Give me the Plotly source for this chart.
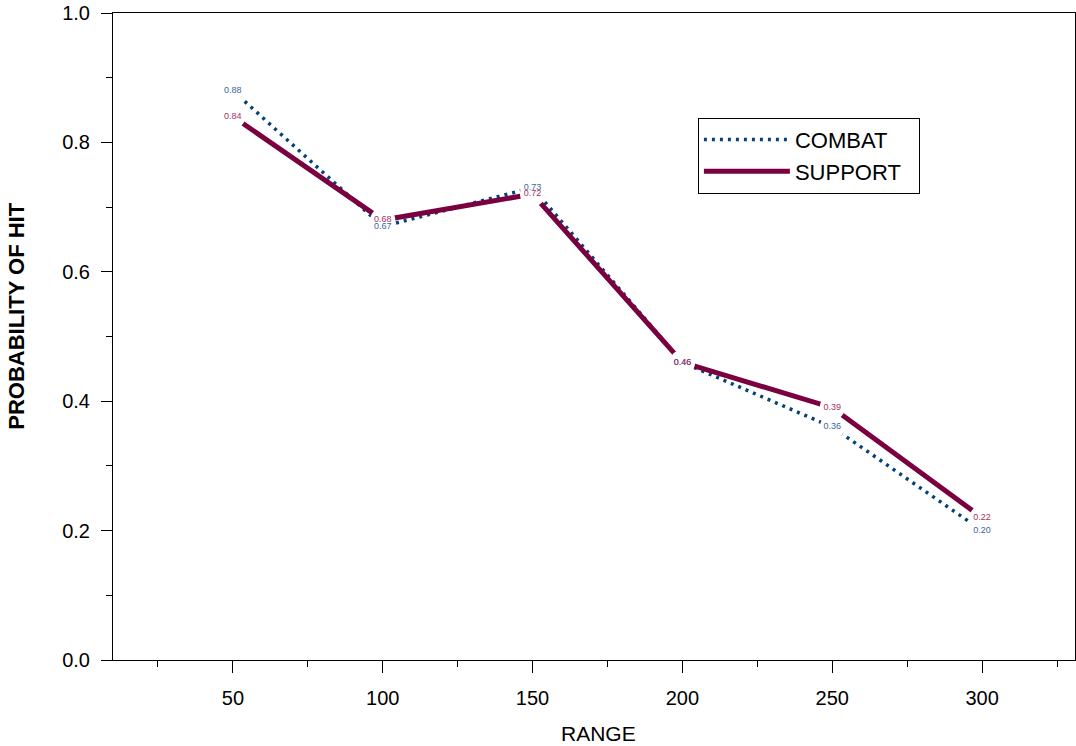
import plotly.graph_objects as go

ranges = [50, 100, 150, 200, 250, 300]
combat = [0.88, 0.67, 0.73, 0.46, 0.36, 0.20]
support = [0.84, 0.68, 0.72, 0.46, 0.39, 0.22]
combat_labels = ["0.88", "0.67", "0.73", "0.46", "0.36", "0.20"]
support_labels = ["0.84", "0.68", "0.72", "0.46", "0.39", "0.22"]
y_ticks = [0, 0.2, 0.4, 0.6, 0.8, 1.0]
y_ticktext = ["0.0", "0.2", "0.4", "0.6", "0.8", "1.0"]

FONT = "Arial, Liberation Sans, sans-serif"
C_LINE = "#00427A"
C_TEXT = "#3A66A0"
S_LINE = "#7A0040"
S_TEXT = "#A8305F"
PAD = "\u00a0\u00a0"

fig = go.Figure()
fig.add_trace(go.Scatter(x=ranges, y=combat, mode="lines", name="COMBAT" + PAD,
                         line=dict(color=C_LINE, width=3.5, dash="3px,5px")))
fig.add_trace(go.Scatter(x=ranges, y=support, mode="lines", name="SUPPORT" + PAD,
                         line=dict(color=S_LINE, width=5)))
# white knock-outs around labelled points
for ys in (combat, support):
    fig.add_trace(go.Scatter(x=ranges, y=ys, mode="markers", showlegend=False,
                             hoverinfo="skip",
                             marker=dict(color="white", size=25, symbol="circle",
                                         line=dict(width=0))))
fig.add_trace(go.Scatter(x=ranges, y=combat, mode="text", text=combat_labels,
                         showlegend=False, textposition="middle center",
                         textfont=dict(family=FONT, size=9, color=C_TEXT)))
fig.add_trace(go.Scatter(x=ranges, y=support, mode="text", text=support_labels,
                         showlegend=False, textposition="middle center",
                         textfont=dict(family=FONT, size=9, color=S_TEXT)))

fig.update_layout(
    width=1076, height=746,
    margin=dict(l=113, r=1, t=13, b=86),
    paper_bgcolor="white", plot_bgcolor="white",
    font=dict(family=FONT, size=20, color="black"),
    showlegend=True,
    legend=dict(x=0.608, y=0.838, xanchor="left", yanchor="top",
                bgcolor="white", bordercolor="black", borderwidth=1,
                itemwidth=86, tracegroupgap=0,
                font=dict(family=FONT, size=22, color="black")),
    annotations=[
        dict(text="<b>PROBABILITY OF HIT</b>", xref="paper", yref="paper",
             x=-0.0998, y=0.532, xanchor="center", yanchor="middle",
             textangle=-90, showarrow=False,
             font=dict(family=FONT, size=22, color="black")),
        dict(text="RANGE", xref="paper", yref="paper",
             x=0.505, y=-0.113, xanchor="center", yanchor="middle",
             showarrow=False, font=dict(family=FONT, size=21, color="black")),
    ],
)
fig.update_xaxes(
    range=[10, 331], tickvals=ranges, ticktext=[str(r) for r in ranges],
    ticks="outside", ticklen=12, tickwidth=1, tickcolor="black",
    ticklabelstandoff=8, automargin=False,
    showline=True, linecolor="black", linewidth=1, mirror=True,
    showgrid=False, zeroline=False,
    minor=dict(tickvals=[25, 75, 125, 175, 225, 275, 325], ticks="outside",
               ticklen=6, tickcolor="black", showgrid=False),
    tickfont=dict(family=FONT, size=20),
)
fig.update_yaxes(
    range=[0, 1], tickvals=y_ticks, ticktext=y_ticktext,
    ticks="outside", ticklen=11, tickwidth=1, tickcolor="black",
    ticklabelstandoff=7, automargin=False,
    showline=True, linecolor="black", linewidth=1, mirror=True,
    showgrid=False, zeroline=False,
    minor=dict(tickvals=[0.1, 0.3, 0.5, 0.7, 0.9], ticks="outside",
               ticklen=6, tickcolor="black", showgrid=False),
    tickfont=dict(family=FONT, size=20),
)

fig.write_html("out.html", config={"displayModeBar": False},
               post_script="document.body.style.margin='0px';")
